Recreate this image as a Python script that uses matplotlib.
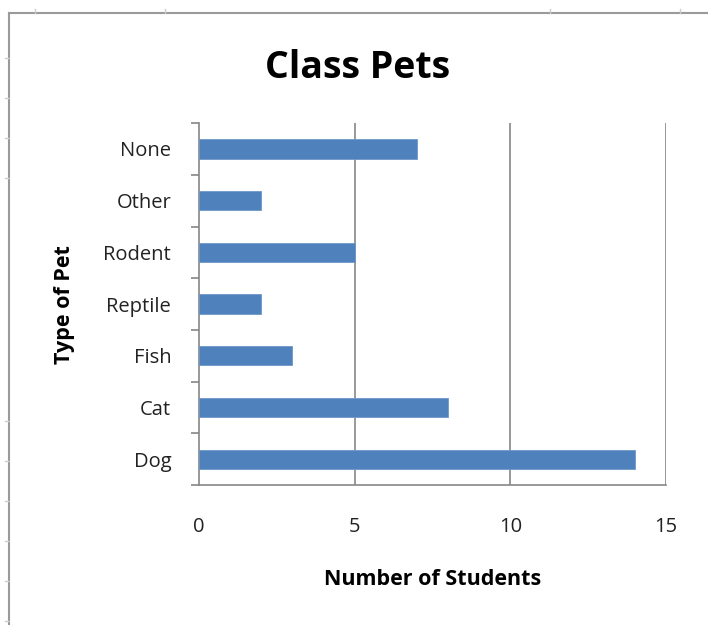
import numpy as np
import matplotlib.pyplot as plt
from matplotlib.lines import Line2D

pets = ["Dog", "Cat", "Fish", "Reptile", "Rodent", "Other", "None"]
students = [14, 8, 3, 2, 5, 2, 7]
x_ticks = [0, 5, 10, 15]

plt.rcParams['font.family'] = ['Open Sans', 'DejaVu Sans']

fig = plt.figure(figsize=(7.08, 6.25), dpi=100)
ax = fig.add_axes([0.281, 0.224, 0.660, 0.579])

y = np.arange(len(pets))
ax.barh(y, students, height=0.37, color="#4F81BD", edgecolor="#6d97c9", linewidth=0.6, zorder=3)

ax.set_xlim(0, 15)
ax.set_ylim(-0.5, len(pets) - 0.5)
ax.set_xticks(x_ticks)
ax.set_xticklabels([str(t) for t in x_ticks], fontsize=14.5, color="#222222")
ax.set_yticks(y)
ax.set_yticklabels(pets, fontsize=14.5, color="#222222")
ax.tick_params(axis='y', length=0, pad=20)
ax.tick_params(axis='x', length=0, pad=23)

# category boundary ticks on the left axis
ax.set_yticks(np.arange(-0.5, len(pets), 1.0), minor=True)
ax.tick_params(axis='y', which='minor', length=6, color="#868686", width=1.2)
ax.set_xticks(x_ticks, minor=True)
ax.tick_params(axis='x', which='minor', length=6, color="#868686", width=1.2)

for t in x_ticks[1:]:
    ax.axvline(t, color="#868686", lw=1.2, zorder=1)

for s in ["top", "right"]:
    ax.spines[s].set_visible(False)
for s in ["left", "bottom"]:
    ax.spines[s].set_color("#868686")
    ax.spines[s].set_linewidth(1.2)

ax.set_xlabel("Number of Students", fontsize=15.5, fontweight="bold", labelpad=23)
ax.set_ylabel("Type of Pet", fontsize=15.5, fontweight="bold")
ax.yaxis.set_label_coords(-0.265, 0.5)
fig.text(0.505, 0.891, "Class Pets", ha="center", va="center", fontsize=27, fontweight="bold")

# sheet frame around the chart
fc = "#9a9a9a"
fig.add_artist(Line2D([9 / 708, 1], [1 - 13 / 625] * 2, color=fc, lw=1.5))
fig.add_artist(Line2D([9 / 708] * 2, [0, 1 - 13 / 625], color=fc, lw=1.5))
for px in [35, 165, 550, 680]:
    fig.add_artist(Line2D([px / 708] * 2, [1 - 9 / 625, 1 - 13 / 625], color="#cccccc", lw=1))
for py in [58, 98, 138, 178, 421, 461, 501, 541, 581, 621]:
    fig.add_artist(Line2D([5 / 708, 9 / 708], [1 - py / 625] * 2, color="#cccccc", lw=1))

fig.savefig("out.png", dpi=100)
